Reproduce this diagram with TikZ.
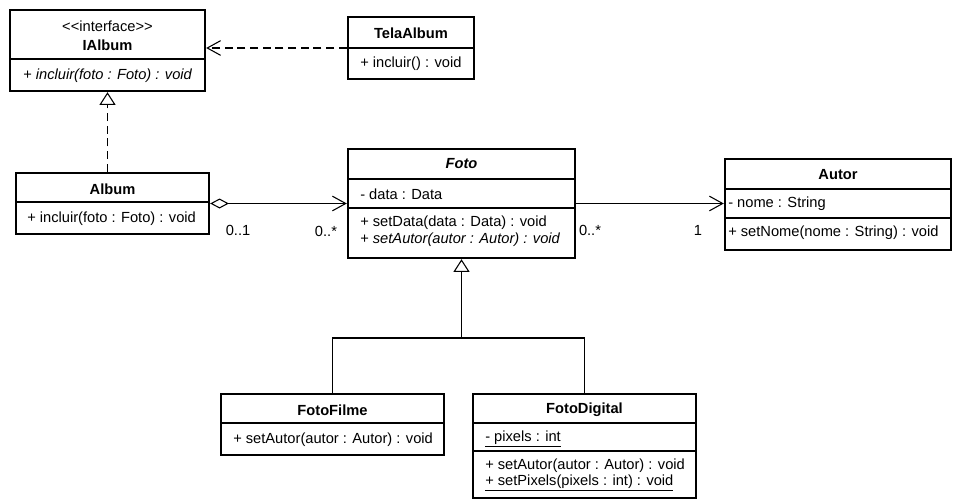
\documentclass[tikz,border=0pt]{standalone}
\usepackage{fontspec}
\setmainfont{Liberation Sans}[Ligatures=TeXOff]
\usetikzlibrary{fit,arrows.meta}
\begin{document}
\begin{tikzpicture}[x=0.75pt,y=-0.75pt,
  cls/.style={draw=black, line width=1.8pt, inner sep=0pt, fill=white},
  sepline/.style={line width=0.9pt},
  txt/.style={inner sep=0pt, anchor=west, font=\fontsize{11}{13}\selectfont},
  ttl/.style={inner sep=0pt, font=\fontsize{11}{13}\selectfont\bfseries},
  mult/.style={inner sep=0pt, font=\fontsize{11}{13}\selectfont},
  conn/.style={line width=0.8pt},
  dashconn/.style={conn, dash pattern=on 6pt off 3.5pt},
  openhead/.style={-{Straight Barb[length=10pt,width=11pt,line width=0.8pt]}},
  trihead/.style={-{Triangle[open,length=9.5pt,width=12pt,line width=0.8pt]}},
]
\useasboundingbox (0,0) rectangle (953,503);
\fill[white] (0,0) rectangle (953,503);

% IAlbum
\node[cls, fit={(10,10) (205,91)}] (ialbum) {};
\draw[sepline] (10,59) -- (205,59);
\node[mult] (ialbumst) at (107.5,26) {<<interface>>};
\node[ttl] (ialbumt) at (107.5,45) {IAlbum};
\node[txt] (ialbumm) at (23,76) {+ \textit{incluir(foto : Foto) : void}};

% TelaAlbum
\node[cls, fit={(348,17) (474,79)}] (telaalbum) {};
\draw[sepline] (348,48) -- (474,48);
\node[ttl] (telaalbumt) at (411,33) {TelaAlbum};
\node[txt] (telaalbumm) at (360,64) {+ incluir() : void};

% Album
\node[cls, fit={(16,173) (209,234)}] (album) {};
\draw[sepline] (16,202) -- (209,202);
\node[ttl] (albumt) at (112.5,189) {Album};
\node[txt] (albumm) at (27,219) {+ incluir(foto : Foto) : void};

% Foto
\node[cls, fit={(348,149) (575,258)}] (foto) {};
\draw[sepline] (348,179) -- (575,179);
\draw[sepline] (348,208) -- (575,208);
\node[ttl, font=\fontsize{11}{13}\selectfont\bfseries\itshape] (fotot) at (461.5,164) {Foto};
\node[txt] (fotoa) at (360,194) {- data : Data};
\node[txt] (fotom1) at (360,223) {+ setData(data : Data) : void};
\node[txt] (fotom2) at (360,240) {+ \textit{setAutor(autor : Autor) : void}};

% Autor
\node[cls, fit={(725,159) (951,250)}] (autor) {};
\draw[sepline] (725,189) -- (951,189);
\draw[sepline] (725,218) -- (951,218);
\node[ttl] (autort) at (838,175) {Autor};
\node[txt] (autora) at (728,204) {- nome : String};
\node[txt] (autorm) at (728,233) {+ setNome(nome : String) : void};

% FotoFilme
\node[cls, fit={(221,394) (444,455)}] (fotofilme) {};
\draw[sepline] (221,423) -- (444,423);
\node[ttl] (fotofilmet) at (332.5,410) {FotoFilme};
\node[txt] (fotofilmem) at (233,440) {+ setAutor(autor : Autor) : void};

% FotoDigital
\node[cls, fit={(473,394) (696,498)}] (fotodigital) {};
\draw[sepline] (473,423) -- (696,423);
\draw[sepline] (473,451) -- (696,451);
\node[ttl] (fotodigitalt) at (584.5,410) {FotoDigital};
\node[txt] (fotodigitala) at (485,439) {\underline{- pixels : int}};
\node[txt] (fotodigitalm1) at (485,466) {+ setAutor(autor : Autor) : void};
\node[txt] (fotodigitalm2) at (485,483) {\underline{+ setPixels(pixels : int) : void}};

% connectors
\draw[dashconn, openhead] (telaalbum.west) -- (telaalbum.west -| ialbum.east);
\draw[dashconn, trihead] (ialbum.south |- album.north) -- (ialbum.south);
\draw[conn, {Diamond[open,length=14pt,width=7.5pt,line width=0.8pt]}-{Straight Barb[length=10pt,width=11pt,line width=0.8pt]}] (album.east) -- (album.east -| foto.west);
\draw[conn, openhead] (foto.east) -- (foto.east -| autor.west);
\coordinate (genj) at (461.5,338);
\draw[conn] (fotofilme.north) |- (genj) -| (fotodigital.north);
\draw[conn, trihead] (genj) -- (foto.south);

% multiplicities
\node[mult] (m01) at (238,230) {0..1};
\node[mult] (m0s) at (326,231) {0..*};
\node[mult] (m0s2) at (590,230) {0..*};
\node[mult] (m1) at (698,230) {1};
\end{tikzpicture}
\end{document}
